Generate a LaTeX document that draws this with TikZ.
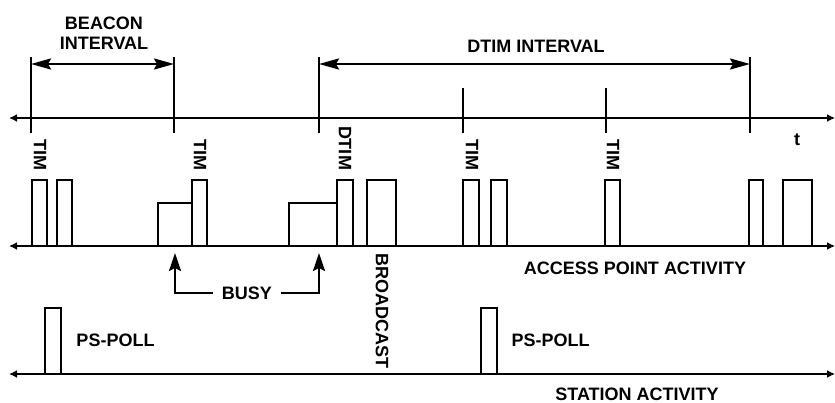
\documentclass[tikz,border=0pt]{standalone}
\usepackage{fontspec}
\setmainfont{Liberation Sans}
\usetikzlibrary{arrows.meta}
\begin{document}
\begin{tikzpicture}[x=1pt,y=-1pt,line width=2.4pt,line join=miter,
  lbl/.style={font=\fontsize{18}{20}\selectfont\bfseries,inner sep=0pt},
  vlbl/.style={lbl,rotate=-90},
  axisline/.style={{Latex[length=8pt,width=8pt]}-{Latex[length=8pt,width=8pt]}},
  intervalarrow/.style={{Stealth[length=20pt,width=11pt,inset=3pt]}-{Stealth[length=20pt,width=11pt,inset=3pt]}},
  busyarrow/.style={-{Stealth[length=18pt,width=12pt,inset=3pt]}},
  pulse/.style={draw,line width=2.4pt}]
\useasboundingbox (0,0) rectangle (835,403);
% axes
\coordinate (tL) at (9,118);  \coordinate (tR) at (835,118);
\coordinate (aL) at (9,246);  \coordinate (aR) at (835,246);
\coordinate (sL) at (9,374);  \coordinate (sR) at (835,374);
\draw[axisline] (tL) -- (tR);
\draw[axisline] (aL) -- (aR);
\draw[axisline] (sL) -- (sR);
% ticks
\foreach \n/\x/\t in {k1/31/57,k2/174/57,k3/319/57,k4/463/88,k5/606/88,k6/750/57}{
  \coordinate (\n top) at (\x,\t);
  \coordinate (\n bot) at (\x,133);
  \coordinate (\n arr) at (\x,64);
  \draw (\n top) -- (\n bot);
}
% interval arrows
\draw[intervalarrow] (k1arr) -- (k2arr);
\draw[intervalarrow] (k3arr) -- (k6arr);
\node[lbl,align=center] (beacon) at (104,33) {BEACON\\INTERVAL};
\node[lbl] (dtimint) at (536,46) {DTIM INTERVAL};
\node[lbl] (t) at (797,140) {t};
% access point pulses
\draw[pulse] (32,246) rectangle (47,180);
\draw[pulse] (57,246) rectangle (72,180);
\draw[pulse] (158,246) rectangle (192,203);
\draw[pulse] (192,246) rectangle (207,180);
\draw[pulse] (289,246) rectangle (337,203);
\draw[pulse] (337,246) rectangle (353,180);
\draw[pulse] (367,246) rectangle (396,180);
\draw[pulse] (463,246) rectangle (479,180);
\draw[pulse] (491,246) rectangle (507,180);
\draw[pulse] (605,246) rectangle (620,180);
\draw[pulse] (749,246) rectangle (763,180);
\draw[pulse] (783,246) rectangle (812,180);
% vertical labels
\node[vlbl] (tim1) at (40,155) {TIM};
\node[vlbl] (tim2) at (200,155) {TIM};
\node[vlbl] (dtim) at (345,148) {DTIM};
\node[vlbl] (tim3) at (472,155) {TIM};
\node[vlbl] (tim4) at (613,155) {TIM};
\node[vlbl] (bcast) at (382,311) {BROADCAST};
% busy
\node[lbl,inner xsep=8pt] (busy) at (247,293) {BUSY};
\coordinate (b1) at (175,253);
\coordinate (b2) at (319,253);
\draw[busyarrow] (busy.west) -| (b1);
\draw[busyarrow] (busy.east) -| (b2);
\node[lbl] (apact) at (635,268) {ACCESS POINT ACTIVITY};
% station
\draw[pulse] (45,374) rectangle (61,308);
\draw[pulse] (481,374) rectangle (497,308);
\node[lbl] (ps1) at (115.5,340) {PS-POLL};
\node[lbl] (ps2) at (550.5,340) {PS-POLL};
\node[lbl] (stact) at (637,394) {STATION ACTIVITY};
\end{tikzpicture}
\end{document}
